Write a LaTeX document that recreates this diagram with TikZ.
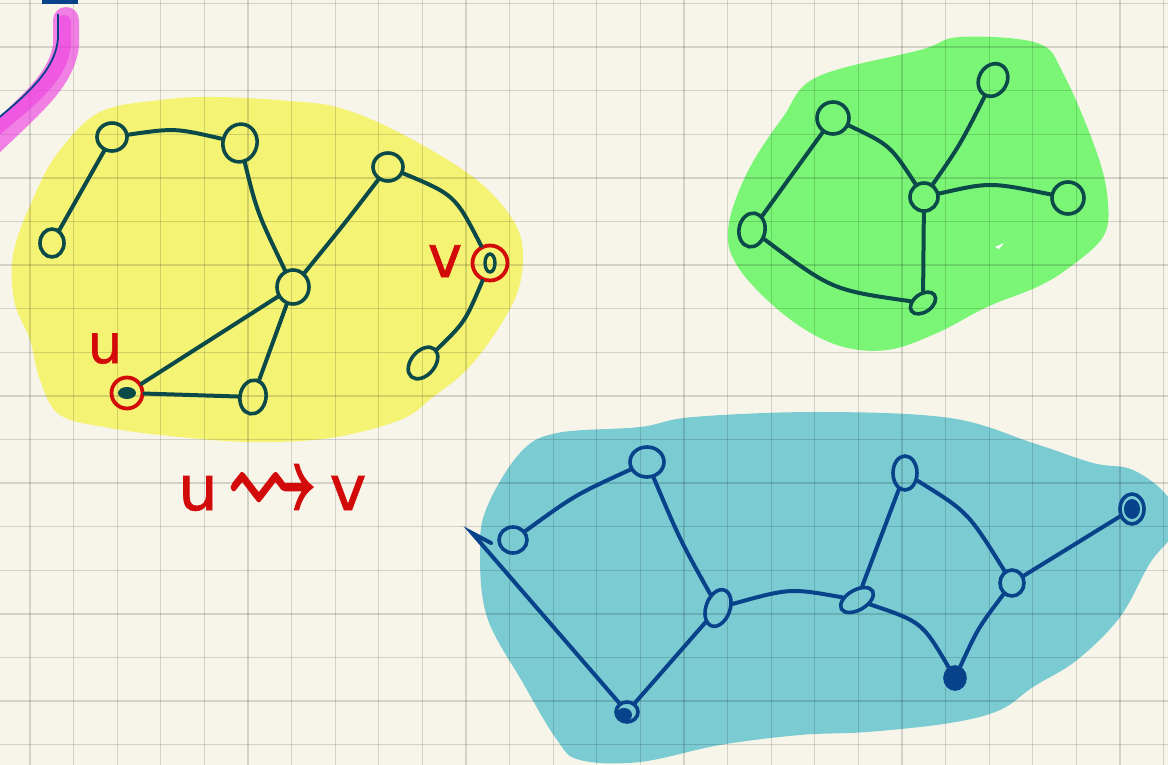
\documentclass[tikz,border=0pt]{standalone}
\usepackage{fontspec}
\usepackage{amssymb}
\usepackage{graphicx}
\usetikzlibrary{shapes.geometric}
\newfontfamily\handfont[FakeBold=1.2]{DejaVu Sans}
\definecolor{paper}{HTML}{F7F5EA}
\definecolor{ylw}{HTML}{F5F373}
\definecolor{grn}{HTML}{7BF576}
\definecolor{tl}{HTML}{7BCBD2}
\definecolor{ink}{HTML}{0B4A48}
\definecolor{navy}{HTML}{07428A}
\definecolor{redink}{HTML}{D30A0A}
\definecolor{mag}{HTML}{EE33E0}
\newcommand{\boldglyph}[1]{\special{pdf:literal direct 0.827 0.039 0.039 RG 2 Tr 1.6 w}#1\special{pdf:literal direct 0 Tr}}
\begin{document}
\begin{tikzpicture}[x=1pt,y=-1pt,
  vtx/.style={ellipse, draw, line width=3.6pt, inner sep=0pt},
  yv/.style={vtx, draw=ink},
  tv/.style={vtx, draw=navy},
  edg/.style={line width=4pt, line cap=round},
  redring/.style={circle, draw=redink, line width=3.8pt, inner sep=0pt},
  gridline/.style={black, opacity=0.14, line width=1.3pt},
  lbl/.style={text=redink, font=\handfont, inner sep=0pt}]
\useasboundingbox (0,0) rectangle (1168,765);
\clip (0,0) rectangle (1168,765);
\fill[paper] (0,0) rectangle (1168,765);

% blobs
\fill[ylw] plot[smooth cycle, tension=0.6] coordinates {(37,190) (60,150) (100,112) (160,100) (215,97) (290,101) (340,108) (400,133) (473,177) (513,220) (523,257) (513,303) (473,363) (433,397) (400,420) (330,438) (250,442) (170,436) (110,428) (60,415) (40,380) (30,340) (14,300) (14,250)};
\fill[grn] plot[smooth cycle, tension=0.6] coordinates {(783,117) (817,77) (920,50) (960,37) (1037,43) (1063,73) (1097,153) (1108,203) (1103,237) (1070,267) (1037,287) (987,307) (937,333) (887,350) (837,345) (787,317) (740,270) (728,230) (747,173)};
\fill[tl] plot[smooth cycle, tension=0.6] coordinates {(487,507) (520,453) (557,433) (640,427) (693,417) (820,412) (950,418) (1033,443) (1093,463) (1133,470) (1168,497) (1175,530) (1150,563) (1120,617) (1077,660) (1033,687) (1000,710) (950,723) (867,732) (800,735) (720,745) (640,762) (580,760) (557,740) (523,683) (487,617) (480,550)};
\fill[white] (995,247) -- (1004,243) -- (999,249) -- cycle;

% grid
\foreach \gx in {30,73.6,...,1168} \draw[gridline] (\gx,0) -- (\gx,765);
\foreach \gy in {3.5,47.1,...,765} \draw[gridline] (0,\gy) -- (1168,\gy);

% magenta highlight stroke
\draw[mag, opacity=0.6, line width=26pt, line cap=round] (66,20) -- (66,45) .. controls (62,80) and (30,105) .. (-8,142);
\draw[mag, opacity=0.5, line width=14pt, line cap=round] (64,22) -- (64,45) .. controls (60,78) and (30,100) .. (-8,132);
\draw[navy, line width=1.8pt] (58,14) -- (58,38) .. controls (56,68) and (30,92) .. (-4,120);
\fill[navy] (42,0) rectangle (78,4);

% yellow graph
\node[yv, minimum width=30pt, minimum height=28pt] (A) at (112,137) {};
\node[yv, minimum width=34pt, minimum height=38pt, rotate=-15] (B) at (240,143) {};
\node[yv, minimum width=24pt, minimum height=28pt] (C) at (52,243) {};
\node[yv, minimum width=32pt, minimum height=34pt] (D) at (293,287) {};
\node[redring, minimum size=31pt] (U) at (127,393) {};
\fill[ink] (U.center) ellipse (9 and 6);
\node[yv, minimum width=26pt, minimum height=34pt, rotate=-10] (E) at (253,397) {};
\node[yv, minimum width=30pt, minimum height=28pt] (F) at (388,167) {};
\node[redring, minimum size=35pt] (V) at (490,263) {};
\draw[ink, line width=3.4pt] (V.center) ellipse (5 and 9);
\node[yv, minimum width=36pt, minimum height=24pt, rotate=50] (G) at (423,363) {};
\begin{scope}[ink, edg]
\draw (A) .. controls (175,128) .. (B);
\draw (A) -- (C);
\draw (B) .. controls (257,212) .. (D);
\draw (D) -- (U);
\draw (D) -- (E);
\draw (U) -- (E);
\draw (D) .. controls (345,223) .. (F);
\draw (F) .. controls (455,195) .. (V);
\draw (V) .. controls (465,322) .. (G);
\end{scope}

% green graph
\node[yv, minimum size=32pt] (H1) at (833,118) {};
\node[yv, minimum width=34pt, minimum height=28pt, rotate=60] (H2) at (993,80) {};
\node[yv, minimum size=28pt] (H3) at (924,197) {};
\node[yv, minimum size=32pt] (H4) at (1068,198) {};
\node[yv, minimum width=26pt, minimum height=34pt, rotate=-10] (H5) at (752,230) {};
\node[yv, minimum width=28pt, minimum height=18pt, rotate=35] (H6) at (923,303) {};
\begin{scope}[ink, edg]
\draw (H1) .. controls (890,145) .. (H3);
\draw (H1) -- (H5);
\draw (H5) .. controls (832,290) .. (H6);
\draw (H6) -- (H3);
\draw (H3) .. controls (960,145) .. (H2);
\draw (H3) .. controls (990,182) .. (H4);
\end{scope}

% teal graph
\node[tv, minimum width=28pt, minimum height=26pt] (T1) at (513,540) {};
\node[tv, minimum width=34pt, minimum height=30pt] (T2) at (647,462) {};
\node[tv, minimum width=24pt, minimum height=38pt, rotate=-20] (T3) at (718,608) {};
\node[tv, minimum width=22pt, minimum height=20pt] (T4) at (627,712) {};
\fill[navy] (T4.center) ++(-3,3) ellipse (8 and 7);
\node[tv, minimum width=24pt, minimum height=34pt] (T5) at (905,473) {};
\node[tv, minimum width=36pt, minimum height=20pt, rotate=30] (T6) at (857,600) {};
\node[tv, minimum width=24pt, minimum height=26pt] (T7) at (1012,583) {};
\node[tv, minimum width=24pt, minimum height=30pt] (T8) at (1132,509) {};
\fill[navy] (T8.center) ellipse (8 and 10);
\node[tv, fill=navy, minimum width=20pt, minimum height=22pt] (T9) at (955,678) {};
\coordinate (Tend) at (472,533);
\begin{scope}[navy, edg]
\draw (T1) .. controls (575,495) .. (T2);
\draw (T2) .. controls (680,540) .. (T3);
\draw (T3) -- (T4);
\draw (T4) -- (Tend) -- (491,543);
\draw (T3) .. controls (790,588) .. (T6);
\draw (T6) -- (T5);
\draw (T5) .. controls (968,512) .. (T7);
\draw (T6) .. controls (922,622) .. (T9);
\draw (T9) .. controls (978,628) .. (T7);
\draw (T7) -- (T8);
\end{scope}

% labels
\node[lbl, font=\handfont\fontsize{54}{54}\selectfont, anchor=base] (lu) at (105,363) {u};
\node[lbl, font=\handfont\fontsize{58}{58}\selectfont, anchor=base] (lv) at (445,277) {v};
\node[lbl, font=\handfont\fontsize{62}{62}\selectfont, anchor=base] (pu) at (198,510) {u};
\node[lbl, font=\fontsize{62}{62}\selectfont] (parrow) at (272,495) {\scalebox{1.45}[2.1]{\boldglyph{$\rightsquigarrow$}}};
\node[lbl, font=\handfont\fontsize{62}{62}\selectfont, anchor=base] (pv) at (348,510) {v};
\end{tikzpicture}
\end{document}
